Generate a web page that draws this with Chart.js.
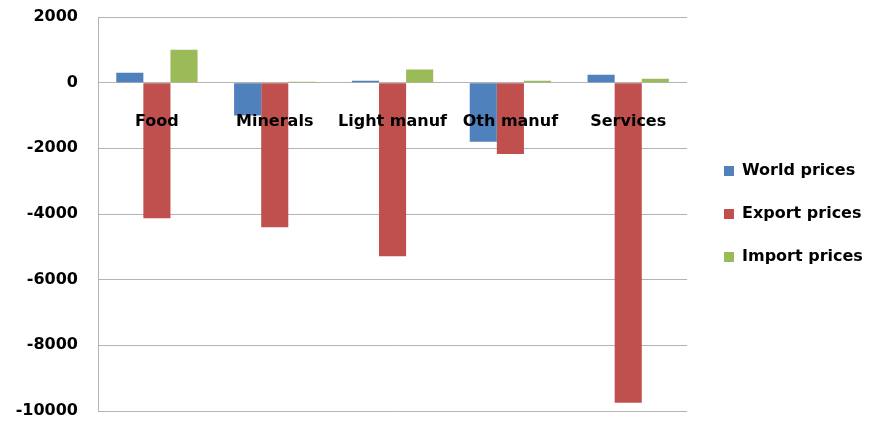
<!DOCTYPE html>
<html>
<head>
<meta charset="utf-8">
<script src="https://cdn.jsdelivr.net/npm/chart.js@4/dist/chart.umd.min.js"></script>
<style>
  html, body { margin: 0; padding: 0; background: #fff; }
  #wrap { width: 875px; height: 421px; }
</style>
</head>
<body>
<div id="wrap"><canvas id="c" width="875" height="421"></canvas></div>
<script>
// Price effects by sector
const categories = ['Food', 'Minerals', 'Light manuf', 'Oth manuf', 'Services'];
const worldPrices  = [300, -1000, 60, -1800, 240];
const exportPrices = [-4130, -4400, -5290, -2170, -9750];
const importPrices = [1000, 30, 400, 60, 120];
const yTicks = [2000, 0, -2000, -4000, -6000, -8000, -10000];

const FONT = 'DejaVu Sans';

// Keep the legend a fixed distance from the plot area
const legendOffset = {
  id: 'legendOffset',
  afterLayout(chart) {
    const lg = chart.legend;
    const shift = 724 - 27 - lg.left;
    lg.left += shift;
    lg.right += shift;
  }
};

new Chart(document.getElementById('c'), {
  type: 'bar',
  data: {
    labels: categories,
    datasets: [
      { label: 'World prices',  data: worldPrices,  backgroundColor: '#4F81BD' },
      { label: 'Export prices', data: exportPrices, backgroundColor: '#C0504D' },
      { label: 'Import prices', data: importPrices, backgroundColor: '#9BBB59' }
    ]
  },
  options: {
    responsive: false,
    maintainAspectRatio: false,
    animation: false,
    devicePixelRatio: 1,
    layout: { padding: { top: 17, right: 12, bottom: 10, left: 0 } },
    datasets: { bar: { categoryPercentage: 0.69, barPercentage: 1.0 } },
    plugins: {
      tooltip: { enabled: false },
      legend: {
        position: 'right',
        labels: {
          boxWidth: 10,
          boxHeight: 10,
          padding: 27,
          color: '#000',
          font: { family: FONT, size: 16, weight: 'bold' }
        }
      }
    },
    scales: {
      x: {
        position: { y: 0 },
        grid: { display: false, drawTicks: false },
        border: { display: false },
        afterFit(scale) { scale.paddingTop = 0; scale.paddingBottom = 0; },
        ticks: {
          z: 1,
          autoSkip: false,
          maxRotation: 0,
          padding: 30,
          color: '#000',
          font: { family: FONT, size: 16, weight: 'bold' }
        }
      },
      y: {
        min: -10000,
        max: 2000,
        afterBuildTicks(scale) { scale.ticks = yTicks.map(v => ({ value: v })); },
        afterFit(scale) {
          scale.width = 98;
          scale.paddingTop = 0;
          scale.paddingBottom = 0;
        },
        grid: { color: '#b4b4b4', lineWidth: 1, drawTicks: false },
        border: { color: '#b4b4b4' },
        ticks: {
          padding: 20,
          color: '#000',
          font: { family: FONT, size: 16, weight: 'bold' },
          callback: v => String(v)
        }
      }
    }
  },
  plugins: [legendOffset]
});
</script>
</body>
</html>
